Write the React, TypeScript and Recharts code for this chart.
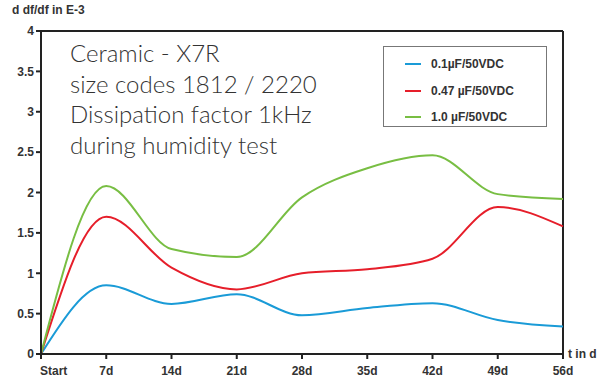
import React from 'react';
import { LineChart, Line, XAxis, YAxis, ReferenceLine } from 'recharts';

const days = ['Start', '7d', '14d', '21d', '28d', '35d', '42d', '49d', '56d'];
const cap01 = [0, 0.85, 0.62, 0.74, 0.48, 0.57, 0.63, 0.42, 0.34];
const cap047 = [0, 1.7, 1.07, 0.8, 1.0, 1.05, 1.18, 1.82, 1.58];
const cap10 = [0, 2.08, 1.3, 1.2, 1.94, 2.3, 2.46, 1.98, 1.92];
const yTicks = [0, 0.5, 1, 1.5, 2, 2.5, 3, 3.5, 4];
const titleLines = ['Ceramic - X7R', 'size codes 1812 / 2220', 'Dissipation factor 1kHz', 'during humidity test'];

const SERIES = [
  { key: 'a', name: '0.1\u00b5F/50VDC', color: '#1a9bd7' },
  { key: 'b', name: '0.47 \u00b5F/50VDC', color: '#e61e2a' },
  { key: 'c', name: '1.0 \u00b5F/50VDC', color: '#78be43' },
];

const data = days.map((d, i) => ({ day: d, a: cap01[i], b: cap047[i], c: cap10[i] }));

const FONT = '"Liberation Sans", Arial, sans-serif';
const tickStyle = { fill: '#333', fontSize: 12, fontWeight: 'bold', fontFamily: FONT };

// x tick: first label ("Start") sits left-aligned on the origin
const DayTick = (props: any) => {
  const { x, y, payload, index } = props;
  return (
    <text
      x={index === 0 ? x - 1 : x}
      y={y + 14}
      textAnchor={index === 0 ? 'start' : 'middle'}
      {...tickStyle}
    >
      {payload.value}
    </text>
  );
};

const LegendBox = () => (
  <div
    style={{
      position: 'absolute',
      left: 383,
      top: 46,
      width: 164,
      height: 81,
      boxSizing: 'border-box',
      border: '1px solid #777',
      paddingTop: 4,
      background: '#fff',
      fontFamily: FONT,
      fontWeight: 'bold',
      fontSize: 12,
      color: '#333',
    }}
  >
    {SERIES.map((s) => (
      <div key={s.key} style={{ display: 'flex', alignItems: 'center', height: 26.5 }}>
        <div style={{ width: 16, height: 2, background: s.color, marginLeft: 21, marginRight: 10 }} />
        <span>{s.name}</span>
      </div>
    ))}
  </div>
);

const App: React.FC = () => {
  return (
    <div style={{ position: 'absolute', left: 0, top: 0, width: 607, height: 382, background: '#fff' }}>
      <LineChart width={607} height={382} data={data} margin={{ top: 31, right: 44, bottom: 0, left: 0 }}>
        <XAxis
          dataKey="day"
          stroke="#222"
          strokeWidth={2}
          tickSize={5}
          tick={<DayTick />}
          tickLine={{ stroke: '#222', strokeWidth: 2 }}
          height={28}
          interval={0}
        />
        <YAxis
          domain={[0, 4]}
          ticks={yTicks}
          stroke="#222"
          strokeWidth={2}
          tickSize={5}
          width={41}
          tick={tickStyle}
          tickLine={{ stroke: '#222', strokeWidth: 2 }}
          interval={0}
        />
        <ReferenceLine y={4} stroke="#222" strokeWidth={2} />
        <ReferenceLine x="56d" stroke="#222" strokeWidth={2} />
        {SERIES.map((s) => (
          <Line
            key={s.key}
            type="monotone"
            dataKey={s.key}
            name={s.name}
            stroke={s.color}
            strokeWidth={2}
            dot={false}
            isAnimationActive={false}
          />
        ))}
      </LineChart>
      <LegendBox />
      <div
        style={{
          position: 'absolute',
          left: 12,
          top: 3,
          fontFamily: FONT,
          fontWeight: 'bold',
          fontSize: 12,
          color: '#333',
        }}
      >
        d df/df in E-3
      </div>
      <div
        style={{
          position: 'absolute',
          left: 568,
          top: 347,
          fontFamily: FONT,
          fontWeight: 'bold',
          fontSize: 12,
          color: '#333',
        }}
      >
        t in d
      </div>
      <div
        style={{
          position: 'absolute',
          left: 70,
          top: 38,
          fontFamily: 'Lato, sans-serif',
          fontWeight: 300,
          fontSize: 24,
          lineHeight: '30.5px',
          color: '#333',
        }}
      >
        {titleLines.map((t) => (
          <div key={t}>{t}</div>
        ))}
      </div>
    </div>
  );
};

export default App;
